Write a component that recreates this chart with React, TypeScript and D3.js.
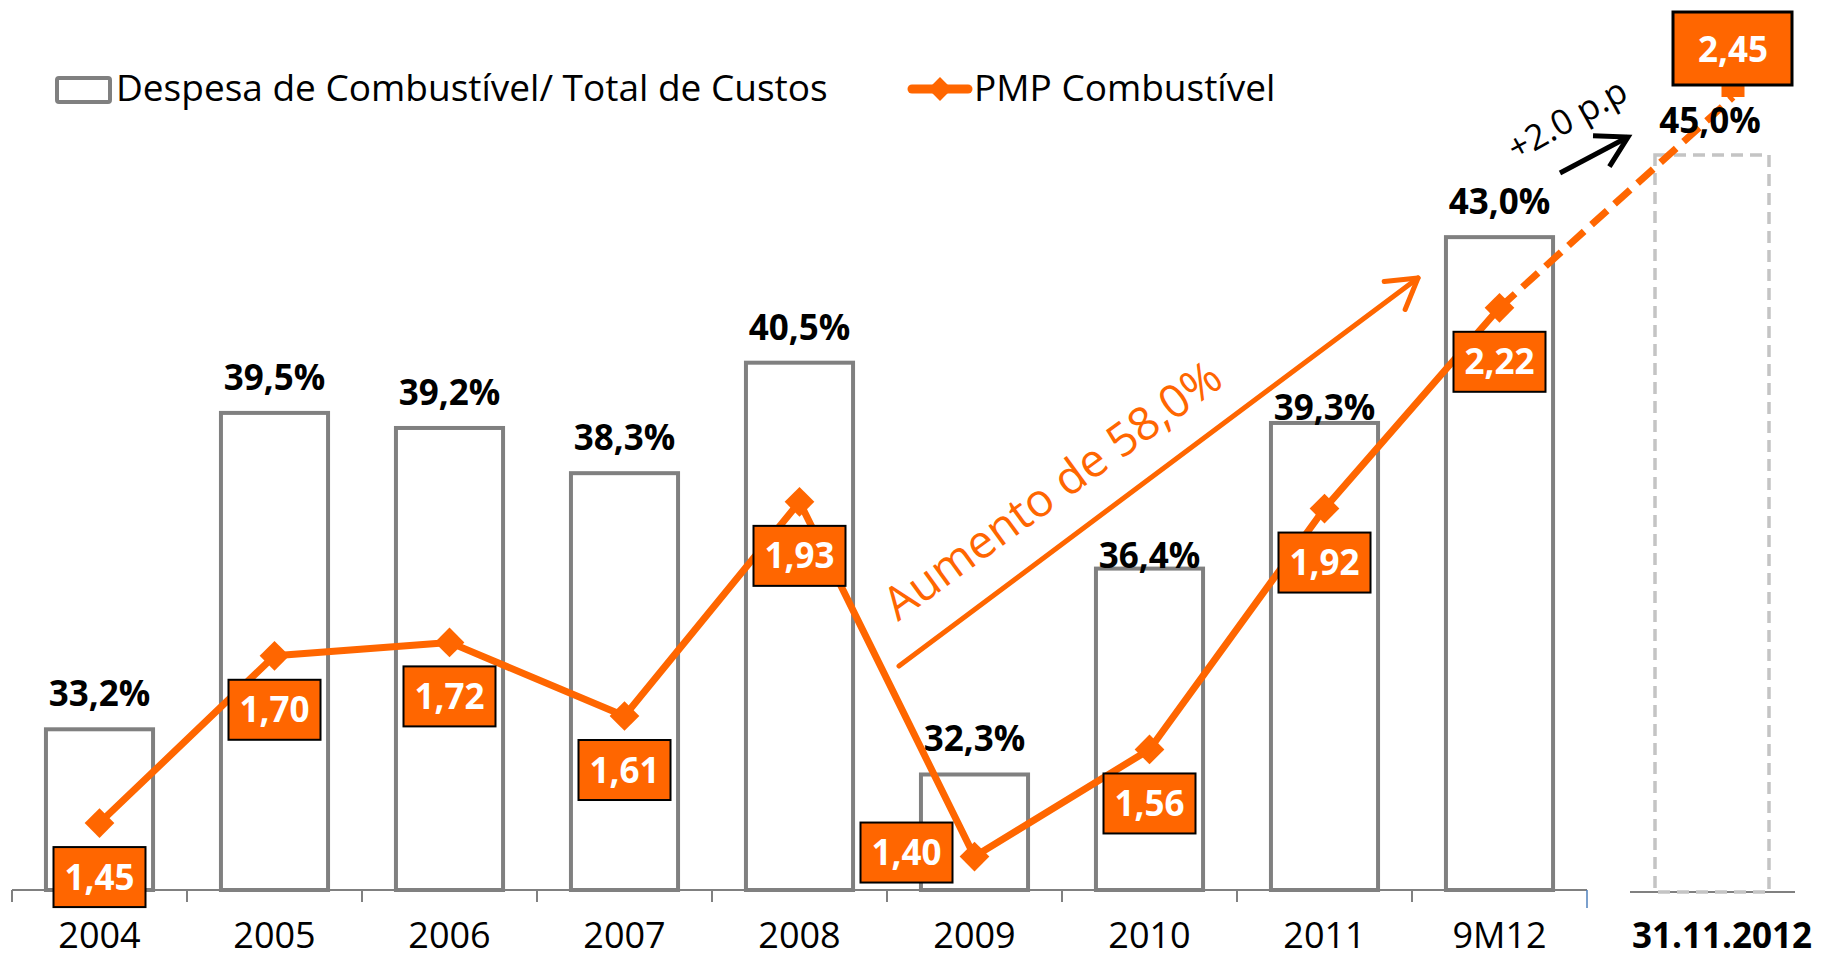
import React, { useEffect } from 'react';
import * as d3 from 'd3';

// ---- data ----
const categories = ['2004', '2005', '2006', '2007', '2008', '2009', '2010', '2011', '9M12'];
const fuelShare = [33.2, 39.5, 39.2, 38.3, 40.5, 32.3, 36.4, 39.3, 43.0];
const pmpFuel = [1.45, 1.70, 1.72, 1.61, 1.93, 1.40, 1.56, 1.92, 2.22];
const projCategory = '31.11.2012';
const projShare = 45.0;
const projPmp = 2.45;
const legendLabels = ['Despesa de Combustível/ Total de Custos', 'PMP Combustível'];
const growthLabel = 'Aumento de 58,0%';
const ppLabel = '+2.0 p.p';

const W = 1825;
const H = 960;
const ORANGE = '#FF6600';
const GRAY = '#808080';
const FONT = "'Open Sans', 'Noto Sans', sans-serif";

const fmt = (v: number, d: number) => v.toFixed(d).replace('.', ',');

function arrowHead(tx: number, ty: number, angleDeg: number, len: number, half: number) {
  const back = ((angleDeg + 180) * Math.PI) / 180;
  const h = (half * Math.PI) / 180;
  const a1 = [tx + len * Math.cos(back - h), ty + len * Math.sin(back - h)];
  const a2 = [tx + len * Math.cos(back + h), ty + len * Math.sin(back + h)];
  return `M${a1[0]},${a1[1]} L${tx},${ty} L${a2[0]},${a2[1]}`;
}

export default function App() {
  useEffect(() => {
    document.body.style.margin = '0';
  }, []);

  const baseY = 890;
  const x = d3.scaleBand<string>().domain(categories).range([12, 1587]).padding(0);
  const bw = x.bandwidth() * 0.612;
  const cx = (c: string) => (x(c) as number) + x.bandwidth() / 2;
  const yBar = d3.scaleLinear().domain([30, 48]).range([baseY, baseY - 18 * 50.22]);
  const yLine = d3.scaleLinear().domain([1.35, 2.7]).range([baseY, baseY - 1.35 * 669.2]);

  // projection panel
  const xProj = 1712;
  const projW = 114;
  const yProj = d3.scaleLinear().domain([30, projShare]).range([892, 155]);
  const projEnd = { x: xProj + 21, y: yProj(projShare) - 58 };

  const pts = categories.map((c, i) => ({ x: cx(c), y: yLine(pmpFuel[i]) }));
  const line = d3.line<{ x: number; y: number }>().x((d) => d.x).y((d) => d.y);
  const last = pts[pts.length - 1];
  const diamond = d3.symbol().type(d3.symbolSquare).size(441)();

  const boxW = 92;
  const boxH = 60;

  // growth arrow
  const g0 = { x: 899, y: 666 };
  const g1 = { x: 1418, y: 278 };
  const gAng = (Math.atan2(g1.y - g0.y, g1.x - g0.x) * 180) / Math.PI;
  // black pp arrow
  const b0 = { x: 1560, y: 173 };
  const b1 = { x: 1628, y: 137 };
  const bAng = (Math.atan2(b1.y - b0.y, b1.x - b0.x) * 180) / Math.PI;

  const labelDy = (i: number) => (i === 6 ? -1 : i === 7 ? -3 : -23);
  const xLabelY = 948;

  return (
    <div style={{ position: 'absolute', left: 0, top: 0 }}>
      <svg width={W} height={H} style={{ display: 'block', fontFamily: FONT }}>
        <rect width={W} height={H} fill="#fff" />

        {/* legend */}
        <rect x={57} y={78} width={53} height={24} fill="#fff" stroke={GRAY} strokeWidth={4} rx={2} />
        <text x={116} y={101} fontSize={37} fill="#000">{legendLabels[0]}</text>
        <line x1={912} y1={89} x2={968} y2={89} stroke={ORANGE} strokeWidth={9} strokeLinecap="round" />
        <path d={diamond} transform={`translate(940,89) rotate(45) scale(0.8)`} fill={ORANGE} />
        <text x={974} y={101} fontSize={37} fill="#000">{legendLabels[1]}</text>

        {/* axis */}
        <line x1={12} y1={baseY} x2={1587} y2={baseY} stroke={GRAY} strokeWidth={2} />
        {categories.map((c) => (
          <line key={'t' + c} x1={x(c)} x2={x(c)} y1={baseY} y2={baseY + 12} stroke={GRAY} strokeWidth={2} />
        ))}
        <line x1={1587} x2={1587} y1={baseY} y2={baseY + 18} stroke="#4F81BD" strokeWidth={1.5} />
        {categories.map((c) => (
          <text key={'xl' + c} x={cx(c)} y={xLabelY} fontSize={36} textAnchor="middle" fill="#000">{c}</text>
        ))}

        {/* bars */}
        {categories.map((c, i) => (
          <rect
            key={'b' + c}
            x={cx(c) - bw / 2}
            y={yBar(fuelShare[i])}
            width={bw}
            height={baseY - yBar(fuelShare[i])}
            fill="#fff"
            stroke={GRAY}
            strokeWidth={4}
          />
        ))}
        {categories.map((c, i) => (
          <text
            key={'bl' + c}
            x={cx(c)}
            y={yBar(fuelShare[i]) + labelDy(i)}
            fontSize={35}
            fontWeight="bold"
            textAnchor="middle"
            fill="#000"
          >
            {fmt(fuelShare[i], 1) + '%'}
          </text>
        ))}

        {/* projection panel */}
        <line x1={1630} x2={1795} y1={yProj(30)} y2={yProj(30)} stroke={GRAY} strokeWidth={2} />
        <rect
          x={xProj - projW / 2}
          y={yProj(projShare)}
          width={projW}
          height={yProj(30) - yProj(projShare)}
          fill="none"
          stroke="#C4C4C4"
          strokeWidth={3.5}
          strokeDasharray="12 7"
        />
        <text x={1722} y={xLabelY} fontSize={35} fontWeight="bold" textAnchor="middle" fill="#000">{projCategory}</text>

        {/* growth annotation */}
        <line x1={g0.x} y1={g0.y} x2={g1.x} y2={g1.y} stroke={ORANGE} strokeWidth={5} strokeLinecap="round" />
        <path d={arrowHead(g1.x, g1.y, gAng, 34, 31)} fill="none" stroke={ORANGE} strokeWidth={5} strokeLinecap="round" strokeLinejoin="round" />
        <text x={898} y={622} fontSize={46} fill={ORANGE} transform="rotate(-36 898 622)">{growthLabel}</text>

        {/* pp annotation */}
        <line x1={b0.x} y1={b0.y} x2={b1.x} y2={b1.y} stroke="#000" strokeWidth={5} />
        <path d={arrowHead(b1.x, b1.y, bAng, 35, 30)} fill="none" stroke="#000" strokeWidth={5} strokeLinejoin="miter" />
        <text x={1573} y={130} fontSize={35} fill="#000" textAnchor="middle" transform="rotate(-29 1573 130)">{ppLabel}</text>

        {/* PMP line */}
        <path d={line(pts) as string} fill="none" stroke={ORANGE} strokeWidth={7} strokeLinejoin="round" />
        <line x1={last.x} y1={last.y} x2={projEnd.x} y2={projEnd.y} stroke={ORANGE} strokeWidth={7} strokeDasharray="21 10" />
        {pts.map((p, i) => (
          <path key={'m' + i} d={diamond} transform={`translate(${p.x},${p.y}) rotate(45)`} fill={ORANGE} />
        ))}
        <text x={1710} y={133} fontSize={35} fontWeight="bold" textAnchor="middle" fill="#000">{fmt(projShare, 1) + '%'}</text>

        {/* PMP labels */}
        {pts.map((p, i) => {
          const bx = i === 5 ? p.x - 68 : p.x;
          const by = i === 5 ? p.y - 4 : p.y + 54;
          return (
            <g key={'pl' + i}>
              <rect x={bx - boxW / 2} y={by - boxH / 2} width={boxW} height={boxH} fill={ORANGE} stroke="#000" strokeWidth={2} />
              <text x={bx} y={by + 12.5} fontSize={35} fontWeight="bold" textAnchor="middle" fill="#fff">{fmt(pmpFuel[i], 2)}</text>
            </g>
          );
        })}

        {/* projection callout */}
        <rect x={projEnd.x - 11.5} y={projEnd.y - 14} width={23} height={14} fill={ORANGE} />
        <rect x={projEnd.x - 60} y={projEnd.y - 85} width={119} height={73} fill={ORANGE} stroke="#000" strokeWidth={3} />
        <text x={projEnd.x} y={projEnd.y - 35} fontSize={35} fontWeight="bold" textAnchor="middle" fill="#fff">{fmt(projPmp, 2)}</text>
      </svg>
    </div>
  );
}
